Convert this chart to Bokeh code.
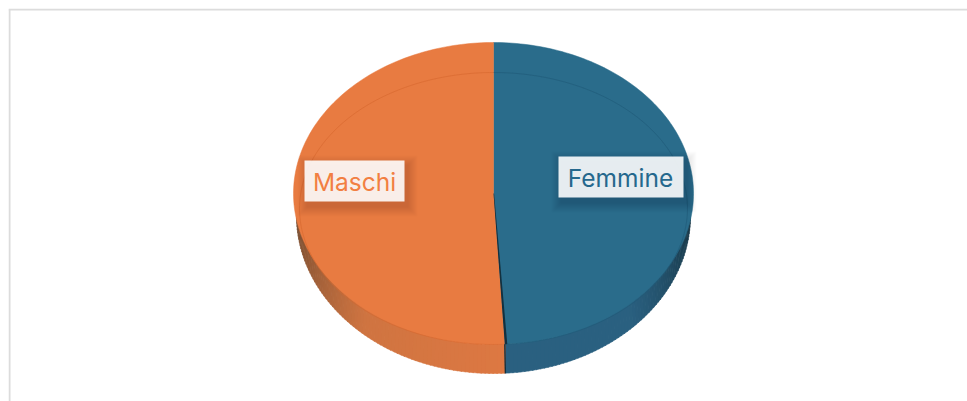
import numpy as np
from bokeh.plotting import figure
from bokeh.models import Range1d
from bokeh.core.properties import value
from bokeh.embed import file_html
from bokeh.resources import INLINE

categories = ["Femmine", "Maschi"]
shares = [49.1, 50.9]
top_colors = ["#2a6c8b", "#e87b41"]
label_colors = ["#25688d", "#f27f42"]

OX, OY = 9, 8
CX, CY, RX, RY = 494, 193, 200, 151
SX, SY, SRX, SRY = 494, 215, 197, 158
IX, IY, IRX, IRY = 494, 208, 194, 136


def mix(c1, c2, t):
    a = [int(c1[i:i + 2], 16) for i in (1, 3, 5)]
    b = [int(c2[i:i + 2], 16) for i in (1, 3, 5)]
    return "#%02x%02x%02x" % tuple(int(round(a[k] + (b[k] - a[k]) * t)) for k in range(3))


p = figure(width=959, height=393, x_range=Range1d(OX, OX + 959), y_range=Range1d(OY + 393, OY),
           output_backend="svg", toolbar_location=None, min_border=0, outline_line_color=None)
p.axis.visible = False
p.grid.visible = False
p.styles = {"position": "absolute", "left": "8px", "top": "8px"}

# panel frame
p.line([10, 10], [9, 402], line_color="#dcdcdc", line_width=2)
p.line([9, 968], [9, 9], line_color="#dcdcdc", line_width=2)

# angles measured clockwise from 12 o'clock
fem_end = np.deg2rad(shares[0] / sum(shares) * 360)


def pt(cx, cy, rx, ry, a):
    return cx + rx * np.sin(a), cy - ry * np.cos(a)


# side wall, in strips
edges = np.linspace(np.pi / 2 - 0.05, 3 * np.pi / 2 + 0.05, 161)
for a0, a1 in zip(edges[:-1], edges[1:]):
    am = (a0 + a1) / 2
    xs0, ys0 = pt(SX, SY, SRX, SRY, np.array([a0, a1 + 0.004]))
    xt0, yt0 = pt(CX, CY, RX * 0.97, RY, np.array([a1 + 0.004, a0]))
    if am < fem_end:
        t = (am - np.pi / 2) / (fem_end - np.pi / 2)
        col = mix("#16323f", "#2a6080", min(t * 1.9, 1))
    else:
        t = (3 * np.pi / 2 - am) / (3 * np.pi / 2 - fem_end)
        col = mix("#6f4a30", "#cf7441", min(t * 1.9, 1)) if t < 0.53 else mix("#cf7441", "#dd7842", (t - 0.53) / 0.47)
    p.patch(list(xs0) + list(xt0), list(ys0) + list(yt0), fill_color=col, line_color=col, line_width=0.5)

# top face
ang = [np.linspace(0, fem_end, 160), np.linspace(fem_end, 2 * np.pi, 160)]
for i, a in enumerate(ang):
    x, y = pt(CX, CY, RX, RY, a)
    p.patch([CX] + list(x), [CY] + list(y), fill_color=top_colors[i], line_color=top_colors[i], line_width=0.5)

# bevel line
x, y = pt(IX, IY, IRX, IRY, ang[0])
p.line(x, y, line_color="#1f5a78", line_width=1, line_alpha=0.6)
x, y = pt(IX, IY, IRX, IRY, ang[1])
p.line(x, y, line_color="#d5672e", line_width=1, line_alpha=0.6)

# dark seam between the slices
ex, ey = pt(CX, CY, RX, RY, fem_end)
p.patch([CX, CX + 0.6, ex + 2.5, ex], [CY, CY, ey, ey], fill_color="#13303f", line_color=None)
p.line([ex, ex + 0.6], [ey, ey + 29], line_color="#13303f", line_width=1.4)

# labels with soft shadows
boxes = [(559, 684, 156, 197), (305, 405, 160, 201)]
anchor_x = [621, 355]
for i, (l, r, t, b) in enumerate(boxes):
    for g in range(10, 0, -1):
        p.quad(left=l - g + 3, right=r + g + 3, top=t - g + 5, bottom=b + g + 5,
               fill_color="#000000", fill_alpha=0.010, line_color=None)
    p.quad(left=l, right=r, top=t, bottom=b, fill_color="#ffffff", fill_alpha=0.89, line_color=None)
    p.text(x=[anchor_x[i]], y=[(t + b) / 2 + 1], text=[categories[i]], text_align="center",
           text_baseline="middle", text_color=label_colors[i], text_font_size="24.5px",
           text_font=value("Inter"))

open("out.html", "w").write(file_html(p, INLINE))
